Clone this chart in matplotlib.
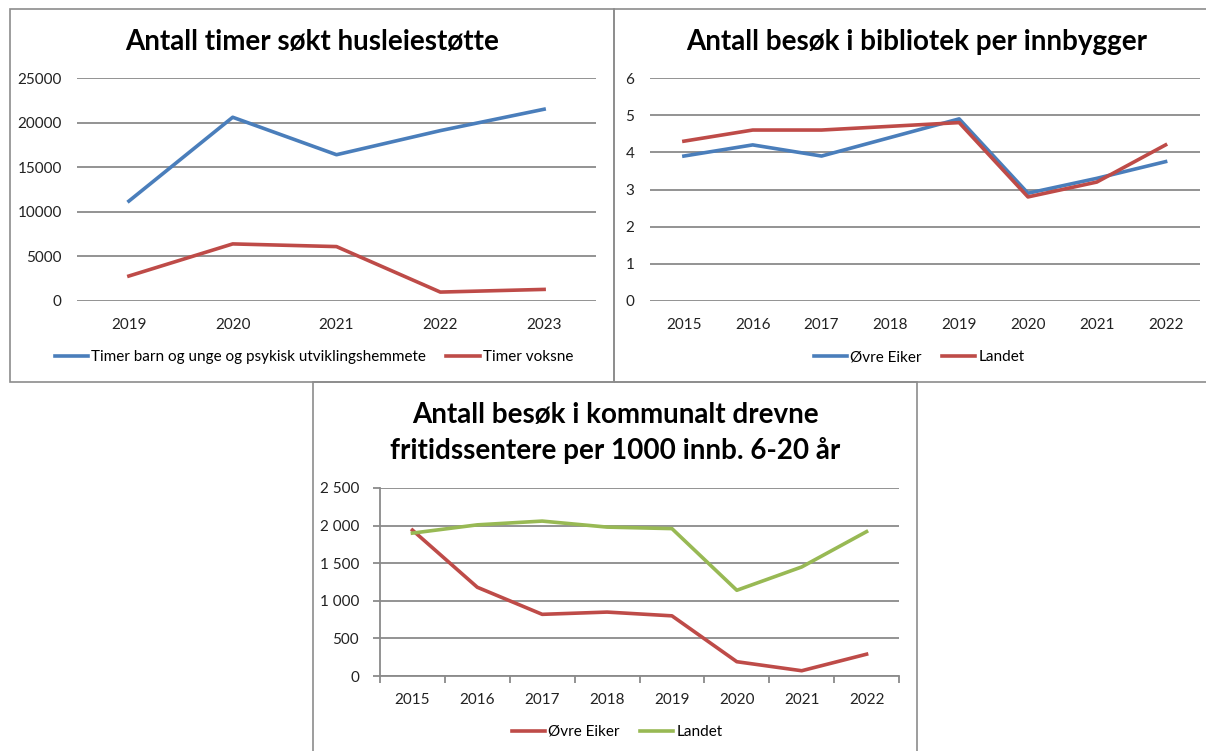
# plot.py
# three Excel-style line charts (husleiestøtte, bibliotek, fritidssentere)

import matplotlib
matplotlib.use("Agg")
import matplotlib.pyplot as plt
from matplotlib.patches import Rectangle
from matplotlib.ticker import FuncFormatter

plt.rcParams['font.family'] = ['Lato', 'DejaVu Sans']

# --- data ---
years_rent = ['2019', '2020', '2021', '2022', '2023']
rent_children = [11200, 20600, 16400, 19100, 21500]
rent_adults = [2800, 6400, 6100, 1000, 1300]

years_lib = ['2015', '2016', '2017', '2018', '2019', '2020', '2021', '2022']
lib_ovre_eiker = [3.9, 4.2, 3.9, 4.4, 4.9, 2.9, 3.3, 3.75]
lib_landet = [4.3, 4.6, 4.6, 4.7, 4.8, 2.8, 3.2, 4.2]

years_youth = ['2015', '2016', '2017', '2018', '2019', '2020', '2021', '2022']
youth_ovre_eiker = [1940, 1180, 820, 850, 800, 190, 70, 290]
youth_landet = [1900, 2010, 2060, 1980, 1960, 1140, 1450, 1920]

W, H = 1206, 751
BLUE = '#4a7ebb'
RED = '#be4b48'
GREEN = '#98b954'
GRID = '#8a8a8a'
BORDER = '#8c8c8c'
TITLE_SIZE = 20
LABEL_SIZE = 11

fig = plt.figure(figsize=(W / 100, H / 100), dpi=100)


def px_axes(x0, y0, x1, y1):
    return fig.add_axes([x0 / W, 1 - y1 / H, (x1 - x0) / W, (y1 - y0) / H])


def px_box(x0, y0, x1, y1):
    fig.patches.append(Rectangle((x0 / W, 1 - y1 / H), (x1 - x0) / W, (y1 - y0) / H,
                                 transform=fig.transFigure, fill=False,
                                 edgecolor=BORDER, linewidth=1.2, zorder=0))


def style_axes(ax, yticks, ymax, n):
    ax.set_xlim(-0.5, n - 0.5)
    ax.set_ylim(0, ymax)
    ax.set_yticks(yticks)
    ax.grid(axis='y', color=GRID, linewidth=1.3)
    ax.set_axisbelow(True)
    for s in ax.spines.values():
        s.set_visible(False)
    ax.tick_params(axis='both', length=0, labelsize=LABEL_SIZE, colors='#222222')
    ax.tick_params(axis='x', pad=12)
    ax.tick_params(axis='y', pad=11)


def add_legend(ax, cx, cy):
    fig.legend(*ax.get_legend_handles_labels(), loc='center', bbox_to_anchor=(cx / W, 1 - cy / H),
               ncol=2, frameon=False, fontsize=LABEL_SIZE, handlelength=2.2, handletextpad=0.2,
               columnspacing=1.3)


# panel borders
px_box(9.5, 9, 614, 382)
px_box(614, 9, 1220, 382)
px_box(313, 382, 917, 760)

# --- panel 1 ---
ax1 = px_axes(77, 78, 596, 301)
x1 = range(len(years_rent))
ax1.plot(x1, rent_children, color=BLUE, lw=2.6, label='Timer barn og unge og psykisk utviklingshemmete')
ax1.plot(x1, rent_adults, color=RED, lw=2.6, label='Timer voksne')
ax1.set_xticks(list(x1), years_rent)
style_axes(ax1, [0, 5000, 10000, 15000, 20000, 25000], 25000, len(years_rent))
fig.text(312 / W, 1 - 42 / H, 'Antall timer søkt husleiestøtte', ha='center', va='center',
         fontsize=TITLE_SIZE, fontweight='bold')
add_legend(ax1, 314, 357)

# --- panel 2 ---
ax2 = px_axes(649.5, 78, 1200, 301)
x2 = range(len(years_lib))
ax2.plot(x2, lib_ovre_eiker, color=BLUE, lw=2.6, label='Øvre Eiker')
ax2.plot(x2, lib_landet, color=RED, lw=2.6, label='Landet')
ax2.set_xticks(list(x2), years_lib)
style_axes(ax2, range(0, 7), 6, len(years_lib))
fig.text(917 / W, 1 - 42 / H, 'Antall besøk i bibliotek per innbygger', ha='center', va='center',
         fontsize=TITLE_SIZE, fontweight='bold')
add_legend(ax2, 919, 357)

# --- panel 3 ---
ax3 = px_axes(380, 488, 899, 676)
x3 = range(len(years_youth))
ax3.plot(x3, youth_ovre_eiker, color=RED, lw=2.6, label='Øvre Eiker')
ax3.plot(x3, youth_landet, color=GREEN, lw=2.6, label='Landet')
ax3.set_xticks(list(x3), years_youth)
style_axes(ax3, [0, 500, 1000, 1500, 2000, 2500], 2500, len(years_youth))
ax3.yaxis.set_major_formatter(FuncFormatter(lambda v, p: f'{int(v):,}'.replace(',', ' ')))
for side in ['left', 'bottom']:
    ax3.spines[side].set_visible(True)
    ax3.spines[side].set_color(GRID)
    ax3.spines[side].set_linewidth(1.3)
ax3.tick_params(axis='y', length=5, color=GRID, width=1.3, pad=10)
# tick marks between categories
ax3.set_xticks([i - 0.5 for i in range(len(years_youth) + 1)], minor=True)
ax3.tick_params(axis='x', which='minor', length=5, color=GRID, width=1.3)
fig.text(615 / W, 1 - 415 / H, 'Antall besøk i kommunalt drevne', ha='center', va='center',
         fontsize=TITLE_SIZE, fontweight='bold')
fig.text(615 / W, 1 - 451 / H, 'fritidssentere per 1000 innb. 6-20 år', ha='center', va='center',
         fontsize=TITLE_SIZE, fontweight='bold')
add_legend(ax3, 617, 732)

fig.savefig('out.png', dpi=100, facecolor='white')
